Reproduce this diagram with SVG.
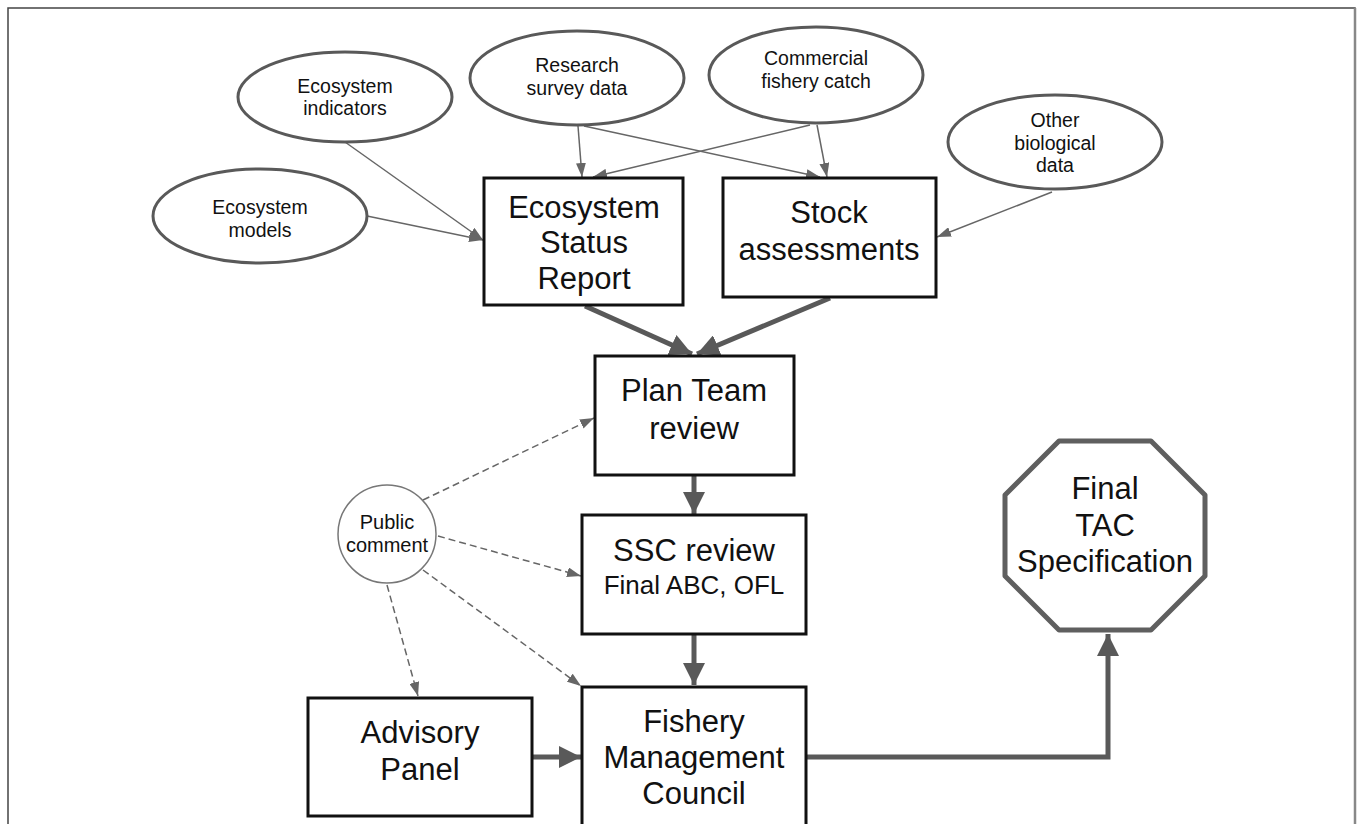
<svg xmlns="http://www.w3.org/2000/svg" width="1360" height="824" viewBox="0 0 1360 824">
  <style>
    text { font-family: "Liberation Sans", Arial, sans-serif; fill: #111; text-anchor: middle; }
    .src { fill: #fff; stroke: #595959; stroke-width: 3; }
    .box { fill: #fff; stroke: #111; stroke-width: 3; }
    .oct { fill: #fff; stroke: #5f5f5f; stroke-width: 5; stroke-linejoin: round; }
    .pub { fill: #fff; stroke: #777; stroke-width: 1.5; }
    .t-sm { font-size: 19.5px; }
    .t-lg { font-size: 31px; }
    .t-md { font-size: 26px; }
    .t-pub { font-size: 20px; }
    .thin { stroke: #666; stroke-width: 1.5; fill: none; }
    .thick { stroke: #595959; stroke-width: 5; fill: none; }
    .dash { stroke: #666; stroke-width: 1.5; fill: none; stroke-dasharray: 7 4; }
  </style>
  <defs>
    <marker id="ah-thin" viewBox="0 0 14 10" refX="14" refY="5" markerWidth="14" markerHeight="10" markerUnits="userSpaceOnUse" orient="auto">
      <path d="M0,0 L14,5 L0,10 z" fill="#666"/>
    </marker>
    <marker id="ah-thick" viewBox="0 0 10 10" refX="10" refY="5" markerWidth="22" markerHeight="22" markerUnits="userSpaceOnUse" orient="auto">
      <path d="M0,0 L10,5 L0,10 z" fill="#595959"/>
    </marker>
  </defs>

  <rect width="1360" height="824" fill="#fff"/>
  <!-- outer frame -->
  <path d="M8,824 V8 H1355 V824" fill="none" stroke="#444" stroke-width="1.5"/>
  <line x1="1355" y1="8" x2="1355" y2="824" stroke="#888" stroke-width="2.5"/>

  <g id="connectors">
    <line class="thin" x1="345" y1="142" x2="483" y2="240" marker-end="url(#ah-thin)"/>
    <line class="thin" x1="367" y1="216" x2="483" y2="240" marker-end="url(#ah-thin)"/>
    <line class="thin" x1="578" y1="126" x2="582" y2="177" marker-end="url(#ah-thin)"/>
    <line class="thin" x1="584" y1="126" x2="820" y2="177" marker-end="url(#ah-thin)"/>
    <line class="thin" x1="810" y1="125" x2="593" y2="177" marker-end="url(#ah-thin)"/>
    <line class="thin" x1="817" y1="125" x2="827" y2="177" marker-end="url(#ah-thin)"/>
    <line class="thin" x1="1052" y1="192" x2="937" y2="237" marker-end="url(#ah-thin)"/>

    <line class="thick" x1="585" y1="306" x2="692" y2="354" marker-end="url(#ah-thick)"/>
    <line class="thick" x1="830" y1="298" x2="697" y2="354" marker-end="url(#ah-thick)"/>
    <line class="thick" x1="694" y1="476" x2="694" y2="514" marker-end="url(#ah-thick)"/>
    <line class="thick" x1="694" y1="635" x2="694" y2="685" marker-end="url(#ah-thick)"/>
    <line class="thick" x1="533" y1="757" x2="581" y2="757" marker-end="url(#ah-thick)"/>
    <polyline class="thick" points="807,757 1108,757 1108,634" marker-end="url(#ah-thick)"/>

    <line class="dash" x1="423" y1="500" x2="594" y2="418" marker-end="url(#ah-thin)"/>
    <line class="dash" x1="438" y1="536" x2="581" y2="576" marker-end="url(#ah-thin)"/>
    <line class="dash" x1="423" y1="570" x2="581" y2="686" marker-end="url(#ah-thin)"/>
    <line class="dash" x1="387" y1="585" x2="418" y2="696" marker-end="url(#ah-thin)"/>
  </g>

  <g id="eco-indicators">
    <ellipse class="src" cx="345" cy="97" rx="107" ry="45"/>
    <text class="t-sm" x="345" y="93">Ecosystem</text>
    <text class="t-sm" x="345" y="115">indicators</text>
  </g>
  <g id="research-survey">
    <ellipse class="src" cx="577" cy="78" rx="107" ry="47"/>
    <text class="t-sm" x="577" y="72">Research</text>
    <text class="t-sm" x="577" y="95">survey data</text>
  </g>
  <g id="commercial-catch">
    <ellipse class="src" cx="816" cy="75" rx="107" ry="48"/>
    <text class="t-sm" x="816" y="65">Commercial</text>
    <text class="t-sm" x="816" y="88">fishery catch</text>
  </g>
  <g id="other-bio">
    <ellipse class="src" cx="1055" cy="142" rx="107" ry="47"/>
    <text class="t-sm" x="1055" y="127">Other</text>
    <text class="t-sm" x="1055" y="150">biological</text>
    <text class="t-sm" x="1055" y="172">data</text>
  </g>
  <g id="eco-models">
    <ellipse class="src" cx="260" cy="216" rx="107" ry="47"/>
    <text class="t-sm" x="260" y="214">Ecosystem</text>
    <text class="t-sm" x="260" y="237">models</text>
  </g>

  <g id="eco-status-report">
    <rect class="box" x="484" y="178" width="199" height="127"/>
    <text class="t-lg" x="584" y="218">Ecosystem</text>
    <text class="t-lg" x="584" y="253">Status</text>
    <text class="t-lg" x="584" y="289">Report</text>
  </g>
  <g id="stock-assessments">
    <rect class="box" x="723" y="178" width="213" height="119"/>
    <text class="t-lg" x="829" y="223">Stock</text>
    <text class="t-lg" x="829" y="260">assessments</text>
  </g>
  <g id="plan-team">
    <rect class="box" x="595" y="356" width="199" height="119"/>
    <text class="t-lg" x="694" y="401">Plan Team</text>
    <text class="t-lg" x="694" y="439">review</text>
  </g>
  <g id="ssc-review">
    <rect class="box" x="582" y="515" width="224" height="119"/>
    <text class="t-lg" x="694" y="561">SSC review</text>
    <text class="t-md" x="694" y="594">Final ABC, OFL</text>
  </g>
  <g id="public-comment">
    <circle class="pub" cx="387" cy="534" r="49"/>
    <text class="t-pub" x="387" y="529">Public</text>
    <text class="t-pub" x="387" y="552">comment</text>
  </g>
  <g id="advisory-panel">
    <rect class="box" x="308" y="698" width="224" height="118"/>
    <text class="t-lg" x="420" y="743">Advisory</text>
    <text class="t-lg" x="420" y="780">Panel</text>
  </g>
  <g id="fishery-council">
    <rect class="box" x="582" y="687" width="224" height="150"/>
    <text class="t-lg" x="694" y="732">Fishery</text>
    <text class="t-lg" x="694" y="768">Management</text>
    <text class="t-lg" x="694" y="804">Council</text>
  </g>
  <g id="final-tac">
    <polygon class="oct" points="1059,441 1151,441 1205,495 1205,576 1151,630 1059,630 1005,576 1005,495"/>
    <text class="t-lg" x="1105" y="499">Final</text>
    <text class="t-lg" x="1105" y="536">TAC</text>
    <text class="t-lg" x="1105" y="572">Specification</text>
  </g>
</svg>
